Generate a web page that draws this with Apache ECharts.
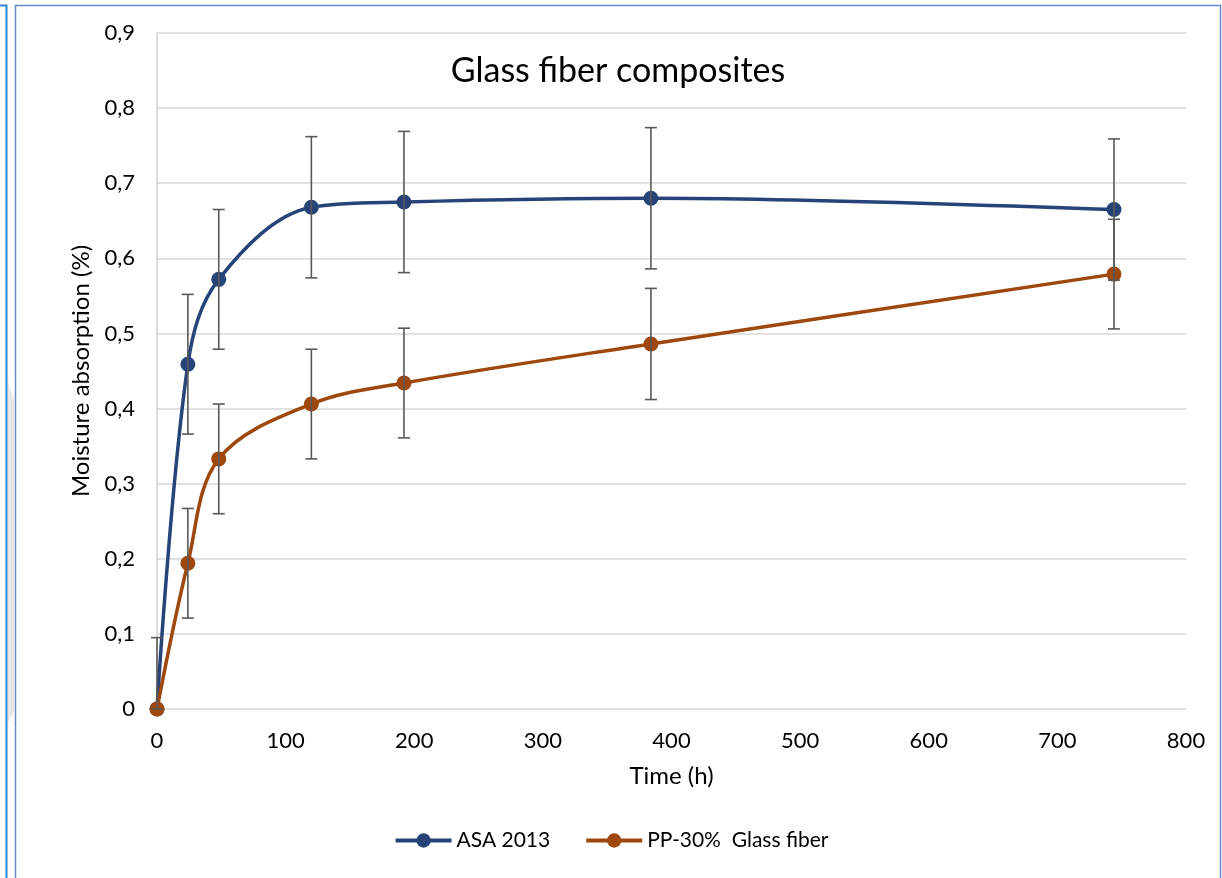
<!DOCTYPE html>
<html><head><meta charset="utf-8">
<script src="https://cdn.jsdelivr.net/npm/echarts@6/dist/echarts.min.js"></script>
<style>html,body{margin:0;padding:0;background:#fff}#c{width:1222px;height:878px}</style>
</head><body><div id="c"></div>
<script>
const times = [0, 24, 48, 120, 192, 384, 744];
const asaValues = [0, 0.459, 0.572, 0.668, 0.675, 0.680, 0.665];
const asaErrors = [0.095, 0.093, 0.093, 0.094, 0.094, 0.094, 0.094];
const ppValues = [0, 0.194, 0.333, 0.406, 0.434, 0.486, 0.579];
const ppErrors = [0, 0.073, 0.073, 0.073, 0.073, 0.074, 0.073];
const seriesNames = ['ASA 2013', 'PP-30%  Glass fiber'];
const FONT = 'Lato';

const chart = echarts.init(document.getElementById('c'));
function pairs(v){ return times.map((t,i)=>[t,v[i]]); }
function errData(v,e){ return times.map((t,i)=>[t, Math.max(0, v[i]-e[i]), v[i]+e[i]]); }
function errSeries(v,e){
  return {
    type:'custom', z:10, silent:true,
    data: errData(v,e),
    renderItem: function(params, api){
      const x = api.value(0);
      const lo = api.coord([x, api.value(1)]);
      const hi = api.coord([x, api.value(2)]);
      const w = 6;
      const st = {stroke:'#595959', lineWidth:1.6};
      const ch = [{type:'line', shape:{x1:hi[0],y1:hi[1],x2:lo[0],y2:lo[1]}, style:st},
                  {type:'line', shape:{x1:hi[0]-w,y1:hi[1],x2:hi[0]+w,y2:hi[1]}, style:st}];
      if (api.value(1) > 0) ch.push({type:'line', shape:{x1:lo[0]-w,y1:lo[1],x2:lo[0]+w,y2:lo[1]}, style:st});
      return {type:'group', children: ch};
    }
  };
}
const colors = ['#264478', '#9E480E'];
chart.setOption({
  animation:false,
  textStyle:{fontFamily:FONT},
  title:{text:'Glass fiber composites', left:613, top:49, textAlign:'center',
    textStyle:{fontFamily:FONT, fontSize:34, fontWeight:'normal', color:'#000'}},
  grid:{left:157, right:36, top:33, bottom:169},
  legend:{top:825, left:'center', itemWidth:56, itemHeight:18, itemGap:34,
    lineStyle:{width:4},
    textStyle:{fontFamily:FONT, fontSize:21, color:'#000'},
    data: seriesNames},
  xAxis:{type:'value', min:0, max:800, interval:100,
    name:'Time (h)', nameLocation:'middle', nameGap:55,
    nameTextStyle:{fontFamily:FONT, fontSize:24, color:'#000'},
    axisLine:{show:false}, axisTick:{show:false}, splitLine:{show:false},
    axisLabel:{fontFamily:FONT, fontSize:22, color:'#000', margin:21}},
  yAxis:{type:'value', min:0, max:0.9, interval:0.1,
    name:'Moisture absorption (%)', nameLocation:'middle', nameGap:60,
    nameTextStyle:{fontFamily:FONT, fontSize:24, color:'#000'},
    axisLine:{show:true, lineStyle:{color:'#d0d0d0', width:1.5}}, axisTick:{show:false},
    splitLine:{lineStyle:{color:'#d9d9d9', width:1.5}},
    axisLabel:{fontFamily:FONT, fontSize:22, color:'#000', margin:22,
      formatter: v => v===0 ? '0' : v.toFixed(1).replace('.',',')}},
  graphic:[
    {type:'rect', shape:{x:-10, y:5.5, width:16.5, height:900}, style:{fill:'none', stroke:'#2e86d6', lineWidth:2}, silent:true},
    {type:'polygon', shape:{points:[[8,382],[14,400],[14,712],[8,722]]}, style:{fill:'#e8e8e8'}, silent:true},
    {type:'rect', shape:{x:15.5, y:5.5, width:1205, height:900}, style:{fill:'none', stroke:'#6a8ad0', lineWidth:1.5}, silent:true}
  ],
  series:[
    {name:seriesNames[0], type:'line', data:pairs(asaValues), smooth:0.35, symbol:'circle', symbolSize:15,
      lineStyle:{color:colors[0], width:3.5}, itemStyle:{color:colors[0]}, z:3},
    {name:seriesNames[1], type:'line', data:pairs(ppValues), smooth:0.35, symbol:'circle', symbolSize:15,
      lineStyle:{color:colors[1], width:3.5}, itemStyle:{color:colors[1]}, z:3},
    errSeries(asaValues, asaErrors),
    errSeries(ppValues, ppErrors)
  ]
});
</script></body></html>
